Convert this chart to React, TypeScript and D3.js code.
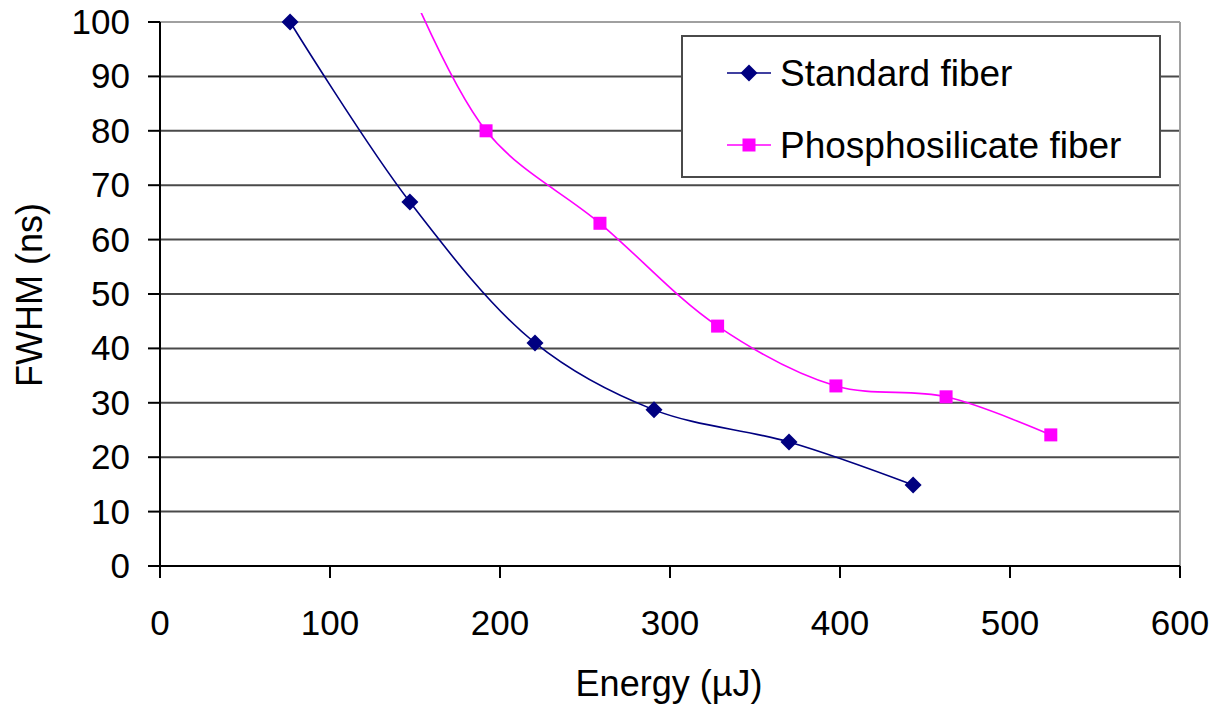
import React from "react";
import * as d3 from "d3";

const standardX = [76.5, 147, 220.6, 290.6, 370, 443];
const standardY = [100, 66.9, 41, 28.7, 22.8, 14.9];
const phosX = [134, 191.8, 258.8, 328, 397.6, 462.4, 524];
const phosY = [116, 80, 63, 44.1, 33.1, 31.1, 24.1];
const xTicks = [0, 100, 200, 300, 400, 500, 600];
const yTicks = [0, 10, 20, 30, 40, 50, 60, 70, 80, 90, 100];
const seriesNames = ["Standard fiber", "Phosphosilicate fiber"];

const W = 1215;
const H = 706;
const L = 160, R = 1180, T = 22, B = 566;
const FONT = "Arial, 'Liberation Sans', sans-serif";

export default function App() {
  const x = d3.scaleLinear().domain([0, 600]).range([L, R]);
  const y = d3.scaleLinear().domain([0, 100]).range([B, T]);
  const line = d3
    .line<[number, number]>()
    .x((d) => x(d[0]))
    .y((d) => y(d[1]))
    .curve(d3.curveCatmullRom.alpha(0.5));
  const std: [number, number][] = standardX.map((v, i) => [v, standardY[i]]);
  const phos: [number, number][] = phosX.map((v, i) => [v, phosY[i]]);
  const diamond = (cx: number, cy: number, r: number) =>
    `M${cx},${cy - r}L${cx + r},${cy}L${cx},${cy + r}L${cx - r},${cy}Z`;

  return (
    <svg
      width={W}
      height={H}
      style={{ position: "absolute", left: 0, top: 0, background: "#fff" }}
      fontFamily={FONT}
    >
      <defs>
        <clipPath id="clipTop">
          <rect x={L} y={13} width={R - L} height={B - 13} />
        </clipPath>
      </defs>
      <rect x={0} y={0} width={W} height={H} fill="#fff" />
      {/* gridlines */}
      {yTicks.slice(1, -1).map((t) => (
        <line key={t} x1={L} x2={R} y1={y(t)} y2={y(t)} stroke="#4a4a4a" strokeWidth={2} />
      ))}
      {/* plot border top/right */}
      <line x1={L} x2={R} y1={y(100)} y2={y(100)} stroke="#a0a0a0" strokeWidth={2} />
      <line x1={R} x2={R} y1={y(100)} y2={B} stroke="#a0a0a0" strokeWidth={2} />
      {/* axes */}
      <line x1={L} x2={L} y1={y(100)} y2={B + 12} stroke="#000" strokeWidth={2} />
      <line x1={L - 12} x2={R} y1={B} y2={B} stroke="#000" strokeWidth={2} />
      {yTicks.map((t) => (
        <g key={t}>
          <line x1={L - 12} x2={L} y1={y(t)} y2={y(t)} stroke="#000" strokeWidth={2} />
          <text x={L - 30} y={y(t) + 12} textAnchor="end" fontSize={35}>
            {t}
          </text>
        </g>
      ))}
      {xTicks.map((t) => (
        <g key={t}>
          <line x1={x(t)} x2={x(t)} y1={B} y2={B + 12} stroke="#000" strokeWidth={2} />
          <text x={x(t)} y={B + 69} textAnchor="middle" fontSize={35}>
            {t}
          </text>
        </g>
      ))}
      <text x={669} y={696} textAnchor="middle" fontSize={36}>
        Energy (µJ)
      </text>
      <text
        transform={`translate(42,295) rotate(-90)`}
        textAnchor="middle"
        fontSize={36}
      >
        FWHM (ns)
      </text>
      {/* series */}
      <g clipPath="url(#clipTop)">
        <path d={line(phos) || ""} fill="none" stroke="#ff00ff" strokeWidth={1.6} />
      </g>
      <path d={line(std) || ""} fill="none" stroke="#000080" strokeWidth={1.6} />
      {std.map((d, i) => (
        <path key={i} d={diamond(x(d[0]), y(d[1]), 8.5)} fill="#000080" />
      ))}
      {phos
        .filter((d) => d[1] <= 100)
        .map((d, i) => (
          <rect key={i} x={x(d[0]) - 6.5} y={y(d[1]) - 6.5} width={13} height={13} fill="#ff00ff" />
        ))}
      {/* legend */}
      <rect x={682} y={36} width={478} height={141} fill="#fff" stroke="#4a4a4a" strokeWidth={2} />
      <line x1={727} x2={771} y1={73} y2={73} stroke="#000080" strokeWidth={1.6} />
      <path d={diamond(749, 73, 8.5)} fill="#000080" />
      <text x={780} y={86} fontSize={37}>
        {seriesNames[0]}
      </text>
      <line x1={727} x2={771} y1={145} y2={145} stroke="#ff00ff" strokeWidth={1.6} />
      <rect x={742.5} y={138.5} width={13} height={13} fill="#ff00ff" />
      <text x={780} y={158} fontSize={37}>
        {seriesNames[1]}
      </text>
    </svg>
  );
}
